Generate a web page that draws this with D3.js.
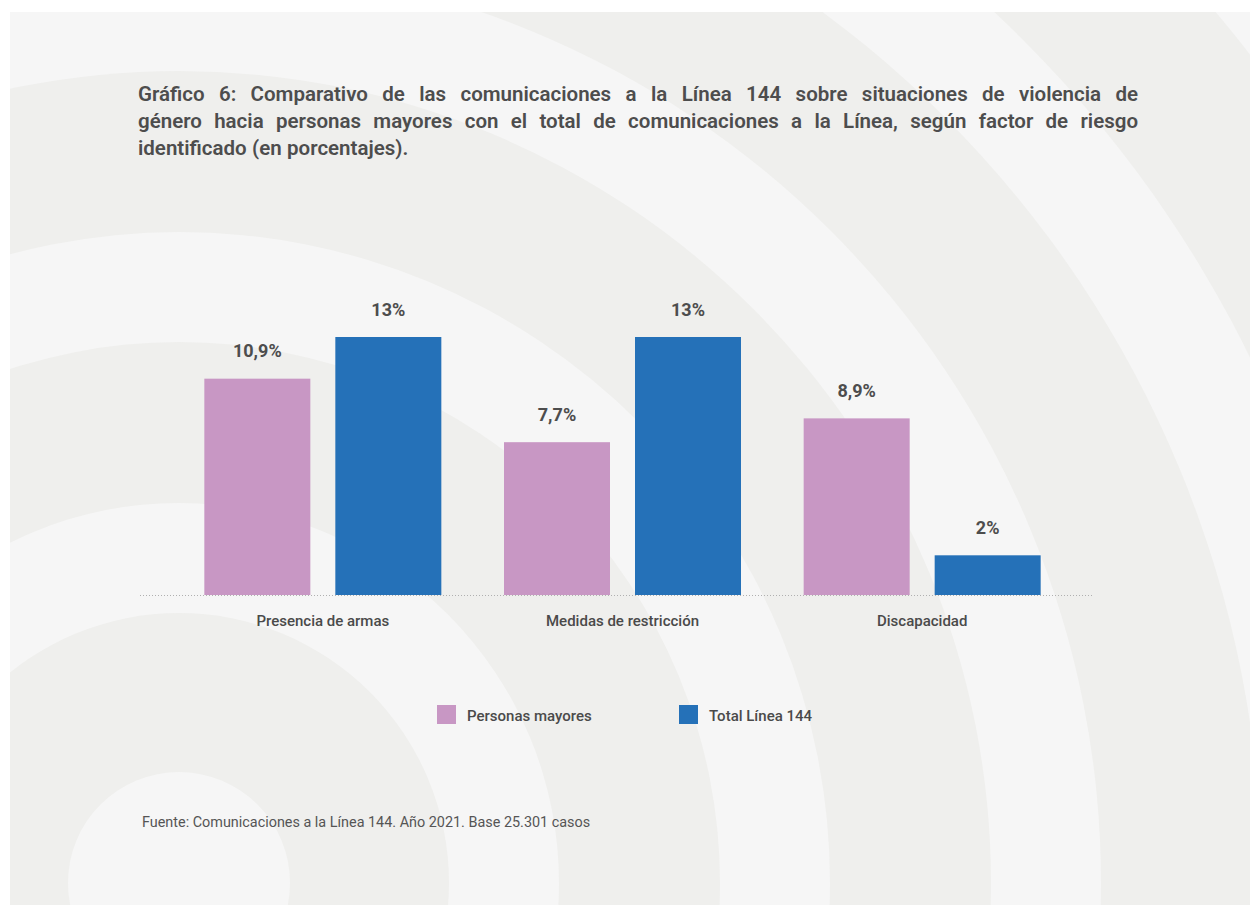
<!DOCTYPE html>
<html>
<head>
<meta charset="utf-8">
<script src="https://cdn.jsdelivr.net/npm/d3@7/dist/d3.min.js"></script>
<style>
  html, body { margin: 0; padding: 0; background: #ffffff; }
  svg { display: block; }
  text { font-family: Roboto, "Noto Sans", sans-serif; }
</style>
</head>
<body>
<svg id="chart" width="1250" height="905"></svg>
<script>
// ---- data ----
const categories = ["Presencia de armas", "Medidas de restricción", "Discapacidad"];
const seriesNames = ["Personas mayores", "Total Línea 144"];
const personasMayores = [10.9, 7.7, 8.9];
const totalLinea = [13, 13, 2];
const valueLabels = [["10,9%", "13%"], ["7,7%", "13%"], ["8,9%", "2%"]];
const titleLines = [
  "Gráfico 6: Comparativo de las comunicaciones a la Línea 144 sobre situaciones de violencia de",
  "género hacia personas mayores con el total de comunicaciones a la Línea, según factor de riesgo",
  "identificado (en porcentajes)."
];
const sourceText = "Fuente: Comunicaciones a la Línea 144. Año 2021. Base 25.301 casos";
const colors = ["#c897c4", "#2571b8"];

const svg = d3.select("#chart");

// ---- background panel with concentric rings ----
const defs = svg.append("defs");
defs.append("clipPath").attr("id", "panelClip")
  .append("rect").attr("x", 10).attr("y", 12).attr("width", 1240).attr("height", 893);
const bg = svg.append("g").attr("clip-path", "url(#panelClip)");
bg.append("rect").attr("x", 10).attr("y", 12).attr("width", 1240).attr("height", 893).attr("fill", "#f6f6f6");
const ringRadii = [1464, 1354, 1193, 1083, 922, 812, 651, 541, 380, 270, 111];
const ringFill = ["#f6f6f6", "#efefed", "#f6f6f6", "#efefed", "#f6f6f6", "#efefed", "#f6f6f6", "#efefed", "#f6f6f6", "#efefed", "#f6f6f6"];
bg.selectAll("circle.ring").data(ringRadii).join("circle")
  .attr("class", "ring")
  .attr("cx", 179).attr("cy", 883)
  .attr("r", d => d)
  .attr("fill", (d, i) => ringFill[i]);

// ---- title (justified) ----
const titleG = svg.append("g");
const tX0 = 138, tX1 = 1138, tY0 = 101, tDy = 27;
titleLines.forEach((line, li) => {
  const words = line.split(" ");
  const yy = tY0 + li * tDy;
  const nodes = words.map(w => titleG.append("text")
    .attr("y", yy)
    .attr("font-size", 20.5)
    .attr("font-weight", 600)
    .attr("fill", "#4d4d4d")
    .text(w));
  const widths = nodes.map(n => n.node().getComputedTextLength());
  const total = d3.sum(widths);
  const justify = li < titleLines.length - 1;
  const gap = justify ? (tX1 - tX0 - total) / (words.length - 1) : 5.4;
  let x = tX0;
  nodes.forEach((n, i) => { n.attr("x", x); x += widths[i] + gap; });
});

// ---- chart ----
const baseY = 595;
const y = d3.scaleLinear().domain([0, 13]).range([baseY, 337]);
const x0 = d3.scaleBand().domain(categories).range([173, 1072]).padding(0);
const x1 = d3.scaleBand().domain(seriesNames)
  .range([x0.bandwidth() / 2 - 118.5, x0.bandwidth() / 2 + 118.5])
  .paddingInner(25 / 131).paddingOuter(0);

const rows = categories.map((c, i) => ({
  cat: c,
  vals: [
    { s: seriesNames[0], v: personasMayores[i], label: valueLabels[i][0], ci: 0 },
    { s: seriesNames[1], v: totalLinea[i], label: valueLabels[i][1], ci: 1 }
  ]
}));

const groups = svg.append("g").selectAll("g.grp").data(rows).join("g")
  .attr("class", "grp")
  .attr("transform", d => `translate(${x0(d.cat)},0)`);

groups.selectAll("rect").data(d => d.vals).join("rect")
  .attr("x", d => x1(d.s))
  .attr("y", d => y(d.v))
  .attr("width", x1.bandwidth())
  .attr("height", d => baseY - y(d.v))
  .attr("fill", d => colors[d.ci]);

groups.selectAll("text.val").data(d => d.vals).join("text")
  .attr("class", "val")
  .attr("x", d => x1(d.s) + x1.bandwidth() / 2)
  .attr("y", d => y(d.v) - 21.5)
  .attr("text-anchor", "middle")
  .attr("font-size", 18)
  .attr("font-weight", 700)
  .attr("fill", "#4d4d4d")
  .text(d => d.label);

// baseline dotted
svg.append("line")
  .attr("x1", 140).attr("x2", 1092)
  .attr("y1", baseY + 0.5).attr("y2", baseY + 0.5)
  .attr("stroke", "#b0b0b0").attr("stroke-width", 1)
  .attr("stroke-dasharray", "1,2");

// x axis labels
const xAxis = d3.axisBottom(x0).tickSize(0).tickPadding(0);
const axG = svg.append("g").attr("transform", `translate(0,${baseY})`).call(xAxis);
axG.select(".domain").remove();
axG.selectAll("text")
  .attr("y", 31).attr("dy", null)
  .attr("font-family", "Roboto, 'Noto Sans', sans-serif")
  .attr("font-size", 15)
  .attr("font-weight", 500)
  .attr("fill", "#4a4a4a");

// ---- legend ----
const legendX = [437, 679];
const leg = svg.append("g").selectAll("g").data(seriesNames).join("g")
  .attr("transform", (d, i) => `translate(${legendX[i]},705)`);
leg.append("rect").attr("width", 19).attr("height", 19).attr("fill", (d, i) => colors[i]);
leg.append("text").attr("x", 30).attr("y", 16)
  .attr("font-size", 15).attr("font-weight", 500).attr("fill", "#4a4a4a")
  .text(d => d);

// ---- source ----
svg.append("text").attr("x", 142).attr("y", 827)
  .attr("font-size", 14.4).attr("fill", "#555555")
  .text(sourceText);
</script>
</body>
</html>
